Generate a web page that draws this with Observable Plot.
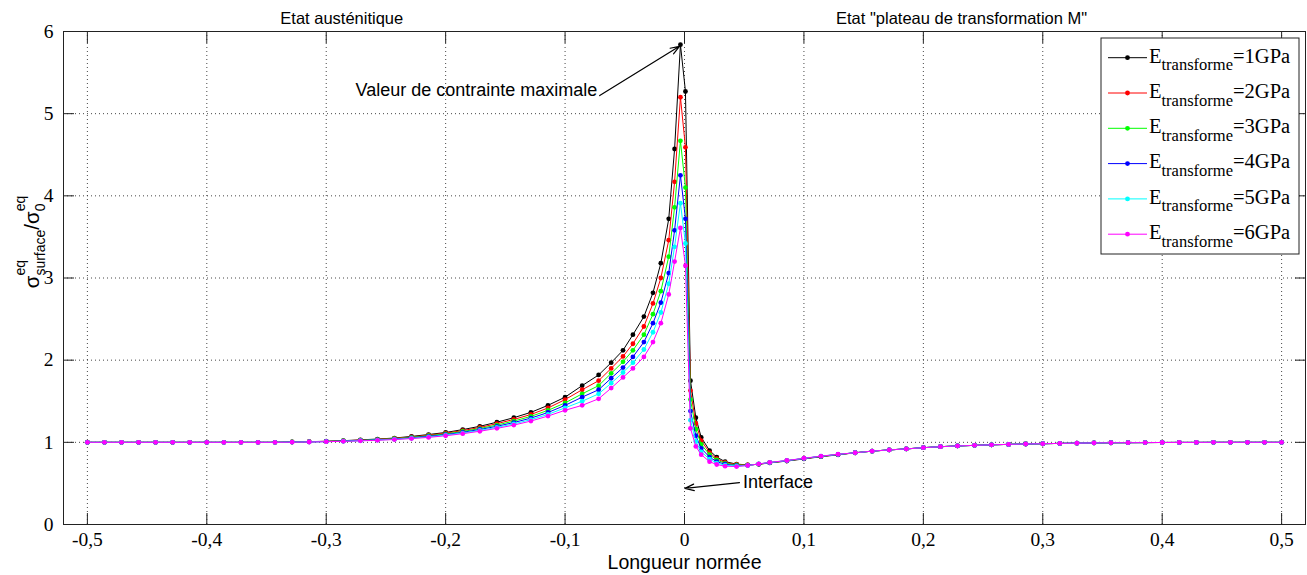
<!DOCTYPE html>
<html><head><meta charset="utf-8">
<script src="https://cdn.jsdelivr.net/npm/d3@7"></script>
<script src="https://cdn.jsdelivr.net/npm/@observablehq/plot@0.6"></script>
<style>body{margin:0;background:#fff} #chart svg{display:block}</style>
</head><body><div id="chart"></div>
<script>
// ---------- data ----------
const xs = [-0.5,-0.4857,-0.4714,-0.4571,-0.4429,-0.4286,-0.4143,-0.4,-0.3857,-0.3714,-0.3571,-0.3429,-0.3286,-0.3143,-0.3,-0.2857,-0.2714,-0.2571,-0.2429,-0.2286,-0.2143,-0.2,-0.1857,-0.1714,-0.1571,-0.1429,-0.1286,-0.1143,-0.1,
-0.0857,-0.0719,-0.0614,-0.0515,-0.0432,-0.034,-0.0264,-0.0198,-0.0132,-0.0083,-0.0034,
0.0008,0.005,0.0095,0.014,0.021,0.027,0.034,0.0436,0.0529,0.0622,
0.0714,0.0857,0.1,0.1143,0.1286,0.1429,0.1571,0.1714,0.1857,0.2,0.2143,0.2286,0.2429,0.2571,0.2714,0.2857,0.3,0.3143,0.3286,0.3429,0.3571,0.3714,0.3857,0.4,0.4143,0.4286,0.4429,0.4571,0.4714,0.4857,0.5];

const yE1 = [1,1,1,1,1,1,1,1,1,1,1,1,1.005,1.008,1.013,1.02,1.03,1.04,1.052,1.072,1.095,1.12,1.155,1.195,1.245,1.3,1.365,1.45,1.55,
1.69,1.82,1.97,2.12,2.31,2.53,2.82,3.18,3.72,4.57,5.84,
5.27,1.75,1.30,1.06,0.9,0.82,0.765,0.735,0.725,0.733,
0.75,0.772,0.798,0.825,0.848,0.873,0.893,0.908,0.92,0.935,0.947,0.956,0.963,0.97,0.975,0.98,0.983,0.987,0.99,0.993,0.995,0.996,0.997,0.998,0.999,0.999,1,1,1,1,1];
const yE2 = [1,1,1,1,1,1,1,1,1,1,1,1,1.004,1.007,1.012,1.018,1.027,1.037,1.048,1.066,1.087,1.111,1.143,1.181,1.227,1.279,1.339,1.418,1.52,
1.64,1.75,1.9,2.045,2.2,2.41,2.69,3.0,3.46,4.17,5.2,
4.59,1.63,1.23,1.02,0.875,0.80,0.755,0.73,0.724,0.734,
0.752,0.775,0.802,0.828,0.851,0.873,0.893,0.908,0.92,0.935,0.947,0.956,0.963,0.97,0.975,0.98,0.983,0.987,0.99,0.993,0.995,0.996,0.997,0.998,0.999,0.999,1,1,1,1,1];
const yE3 = [1,1,1,1,1,1,1,1,1,1,1,1,1.004,1.006,1.011,1.016,1.024,1.034,1.044,1.06,1.08,1.102,1.132,1.168,1.21,1.259,1.316,1.389,1.48,
1.59,1.69,1.84,1.98,2.12,2.31,2.56,2.84,3.26,3.86,4.67,
4.1,1.52,1.16,0.975,0.85,0.785,0.745,0.724,0.722,0.735,
0.753,0.776,0.803,0.829,0.852,0.873,0.893,0.908,0.92,0.935,0.947,0.956,0.963,0.97,0.975,0.98,0.983,0.987,0.99,0.993,0.995,0.996,0.997,0.998,0.999,0.999,1,1,1,1,1];
const yE4 = [1,1,1,1,1,1,1,1,1,1,1,1,1.003,1.005,1.01,1.015,1.022,1.031,1.04,1.055,1.073,1.094,1.122,1.156,1.195,1.241,1.295,1.363,1.45,
1.55,1.64,1.78,1.91,2.04,2.22,2.45,2.7,3.06,3.58,4.25,
3.72,1.38,1.08,0.925,0.82,0.765,0.733,0.717,0.72,0.736,
0.754,0.777,0.804,0.83,0.853,0.873,0.893,0.908,0.92,0.935,0.947,0.956,0.963,0.97,0.975,0.98,0.983,0.987,0.99,0.993,0.995,0.996,0.997,0.998,0.999,0.999,1,1,1,1,1];
const yE5 = [1,1,1,1,1,1,1,1,1,1,1,1,1.003,1.005,1.009,1.013,1.02,1.028,1.037,1.05,1.066,1.087,1.113,1.145,1.182,1.225,1.276,1.34,1.42,
1.5,1.59,1.72,1.85,1.97,2.13,2.34,2.58,2.93,3.38,3.91,
3.42,1.27,1.01,0.885,0.795,0.748,0.722,0.711,0.718,0.737,
0.755,0.778,0.805,0.831,0.854,0.873,0.893,0.908,0.92,0.935,0.947,0.956,0.963,0.97,0.975,0.98,0.983,0.987,0.99,0.993,0.995,0.996,0.997,0.998,0.999,0.999,1,1,1,1,1];
const yE6 = [1,1,1,1,1,1,1,1,1,1,1,1,1.002,1.004,1.008,1.012,1.018,1.025,1.034,1.046,1.06,1.08,1.105,1.135,1.17,1.21,1.259,1.32,1.39,
1.45,1.53,1.66,1.79,1.9,2.04,2.22,2.45,2.8,3.2,3.61,
3.15,1.17,0.95,0.85,0.765,0.73,0.71,0.705,0.718,0.737,
0.756,0.779,0.806,0.832,0.855,0.873,0.893,0.908,0.92,0.935,0.947,0.956,0.963,0.97,0.975,0.98,0.983,0.987,0.99,0.993,0.995,0.996,0.997,0.998,0.999,0.999,1,1,1,1,1];

const seriesValues = [yE1, yE2, yE3, yE4, yE5, yE6];
const seriesLabels = ["=1GPa", "=2GPa", "=3GPa", "=4GPa", "=5GPa", "=6GPa"];
const seriesColors = ["#000000", "#ff0000", "#00ff00", "#0000ff", "#00ffff", "#ff00ff"];

const xTicks = [-0.5,-0.4,-0.3,-0.2,-0.1,0,0.1,0.2,0.3,0.4,0.5];
const yTicks = [0,1,2,3,4,5,6];

const titleTexts = ["Etat austénitique", "Etat \"plateau de transformation M\""];
const titleX = [-0.287, 0.232];

const peakNote = "Valeur de contrainte maximale";
const peakNoteX = -0.073, peakNoteY = 5.28;
const interfaceNote = "Interface";
const interfaceNoteX = 0.049, interfaceNoteY = 0.51;
const arrowX1 = [-0.071, 0.046], arrowY1 = [5.22, 0.51];
const arrowX2 = [-0.0042, 0.0004], arrowY2 = [5.82, 0.44];

// ---------- build ----------
const fmt = d => d === 0 ? "0" : String(+d.toFixed(1)).replace(".", ",");
const serif = "'Liberation Serif', 'Times New Roman', serif";
const sans = "'Liberation Sans', Arial, sans-serif";
const axisColor = "#222";

const seriesMarks = [];
seriesValues.forEach((vals, i) => {
  const data = vals.map((v, j) => ({x: xs[j], y: v}));
  seriesMarks.push(Plot.line(data, {x: "x", y: "y", stroke: seriesColors[i], strokeWidth: 1}));
  seriesMarks.push(Plot.dot(data, {x: "x", y: "y", r: 2.4, fill: seriesColors[i], stroke: null}));
});

const plot = Plot.plot({
  width: 1307,
  height: 575,
  marginLeft: 63,
  marginRight: 2,
  marginTop: 31,
  marginBottom: 51,
  style: {background: "white", overflow: "visible"},
  x: {domain: [-0.52, 0.52]},
  y: {domain: [0, 6]},
  marks: [
    Plot.gridX(xTicks, {stroke: "#333", strokeOpacity: 0.9, strokeDasharray: "1,3"}),
    Plot.gridY(yTicks, {stroke: "#333", strokeOpacity: 0.9, strokeDasharray: "1,3"}),
    ...seriesMarks,
    Plot.frame({stroke: axisColor, strokeWidth: 1}),
    // inward ticks on all four sides
    Plot.axisX(xTicks, {anchor: "bottom", tickSize: 11, dy: -11, fill: "none", stroke: axisColor, label: null}),
    Plot.axisX(xTicks, {anchor: "top", tickSize: 11, dy: 11, fill: "none", stroke: axisColor, label: null}),
    Plot.axisY(yTicks, {anchor: "left", tickSize: 11, dx: 11, fill: "none", stroke: axisColor, label: null}),
    Plot.axisY(yTicks, {anchor: "right", tickSize: 11, dx: -11, fill: "none", stroke: axisColor, label: null}),
    // tick labels
    Plot.text(xTicks, {x: d => d, frameAnchor: "bottom", lineAnchor: "top", dy: 8, text: fmt, fontFamily: serif, fontSize: 19.5, fill: "#000", ariaLabel: "x-tick-label"}),
    Plot.text(yTicks, {y: d => d, frameAnchor: "left", textAnchor: "end", dx: -10, text: fmt, fontFamily: serif, fontSize: 19.5, fill: "#000", ariaLabel: "y-tick-label"}),
    // x axis label
    Plot.text(["Longueur normée"], {frameAnchor: "bottom", dy: 44, text: d => d, fontFamily: sans, fontSize: 19.5, fill: "#000"}),
    // region titles above plot
    Plot.text(titleTexts, {x: (d, i) => titleX[i], y: () => 6, dy: -13, text: d => d, fontFamily: sans, fontSize: 16.5, fill: "#000"}),
    // annotations
    Plot.arrow(arrowX1, {x1: (d, i) => arrowX1[i], y1: (d, i) => arrowY1[i], x2: (d, i) => arrowX2[i], y2: (d, i) => arrowY2[i], stroke: "#000", strokeWidth: 1.2, headLength: 12, headAngle: 40}),
    Plot.text([peakNote], {x: () => peakNoteX, y: () => peakNoteY, text: d => d, textAnchor: "end", fontFamily: sans, fontSize: 18, fill: "#000"}),
    Plot.text([interfaceNote], {x: () => interfaceNoteX, y: () => interfaceNoteY, text: d => d, textAnchor: "start", fontFamily: sans, fontSize: 18, fill: "#000"})
  ]
});

document.getElementById("chart").appendChild(plot);
const svg = d3.select(plot);

// make sure tick labels use the serif face
svg.selectAll("g[aria-label='x-tick-label'] text, g[aria-label='y-tick-label'] text")
  .style("font-family", serif).style("font-size", "19.5px");

// ---------- legend ----------
const lg = svg.append("g").attr("class", "legend").attr("text-anchor", "start");
lg.append("rect").attr("x", 1101).attr("y", 38).attr("width", 198).attr("height", 216)
  .attr("fill", "white").attr("stroke", axisColor).attr("stroke-width", 1);
seriesLabels.forEach((lab, i) => {
  const cy = 57.7 + i * 35.3;
  lg.append("line").attr("x1", 1108).attr("x2", 1147).attr("y1", cy).attr("y2", cy)
    .attr("stroke", seriesColors[i]).attr("stroke-width", 1);
  lg.append("circle").attr("cx", 1127.5).attr("cy", cy).attr("r", 2.4).attr("fill", seriesColors[i]);
  const t = lg.append("text").attr("x", 1149).attr("y", cy + 4.8).attr("text-anchor", "start")
    .style("font-family", serif).style("font-size", "20.5px").attr("fill", "#000");
  t.append("tspan").text("E");
  t.append("tspan").attr("dy", 7.7).style("font-size", "16.5px").text("transforme");
  t.append("tspan").attr("dy", -7.7).text(lab);
});

// ---------- y label with sub/superscripts ----------
const yl = svg.append("g").attr("text-anchor", "start");
const big = 20.5, small = 14;
function piece(str, size, x, y) {
  const el = yl.append("text").attr("x", x).attr("y", y).attr("text-anchor", "start")
    .style("font-family", sans).style("font-size", size + "px").attr("fill", "#000").text(str);
  return el.node().getComputedTextLength();
}
let cx = 0;
const w1 = piece("σ", big, cx, 0); cx += w1;
const wa = piece("eq", small, cx, -14);
const wb = piece("surface", small, cx, 6);
cx += Math.max(wa, wb);
const w2 = piece("/σ", big, cx, 0); cx += w2;
const wc = piece("eq", small, cx, -14);
const wd = piece("0", small, cx, 6);
cx += Math.max(wc, wd);
yl.attr("transform", `translate(39,${242 + cx / 2}) rotate(-90)`);
</script>
</body></html>
